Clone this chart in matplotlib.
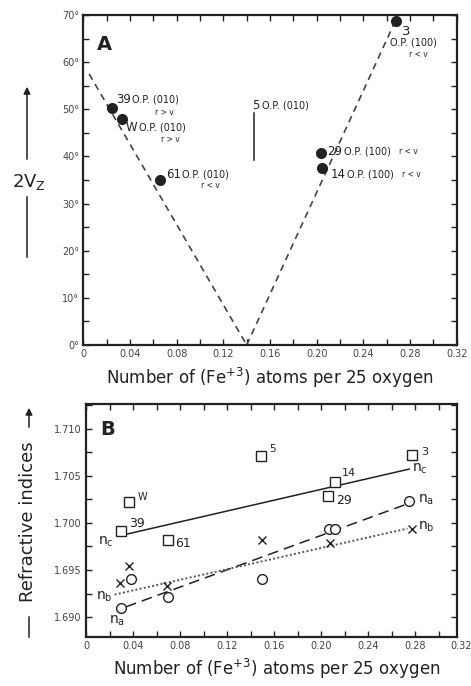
import matplotlib.pyplot as plt
import matplotlib.ticker as mticker

# --- panel A: 2Vz vs Fe+3 ---
a_names = ['39', 'W', '61', '29', '14', '3']
a_fe = [0.0246, 0.0332, 0.0657, 0.2037, 0.2046, 0.268]
a_2vz = [50.3, 48.0, 35.0, 40.8, 37.6, 68.7]
a_op = ['O.P. (010)', 'O.P. (010)', 'O.P. (010)', 'O.P. (100)', 'O.P. (100)', 'O.P. (100)']
a_disp = ['r > v', 'r > v', 'r < v', 'r < v', 'r < v', 'r < v']
s5_fe = 0.146
s5_2vz = [39.3, 49.3]
left_fe = [0.005, 0.140]
left_2vz = [57.5, 0.0]
right_fe = [0.140, 0.266]
right_2vz = [0.0, 68.0]

# --- panel B: refractive indices vs Fe+3 ---
b_names = ['W', '39', '61', '5', '29', '14', '3']
nc_fe = [0.037, 0.030, 0.0696, 0.149, 0.206, 0.212, 0.277]
nc = [1.7022, 1.6991, 1.6982, 1.7071, 1.7029, 1.7043, 1.7072]
na_fe = [0.0385, 0.030, 0.0696, 0.150, 0.207, 0.2115, 0.275]
na = [1.6941, 1.6910, 1.6921, 1.6941, 1.6993, 1.6994, 1.7023]
nb_fe = [0.0364, 0.029, 0.0688, 0.150, 0.208, 0.277]
nb = [1.6954, 1.6936, 1.6933, 1.6982, 1.6979, 1.6993]
nc_line_fe = [0.031, 0.275]
nc_line = [1.6987, 1.7057]
na_line_fe = [0.034, 0.271]
na_line = [1.6911, 1.7019]
nb_line_fe = [0.0243, 0.2736]
nb_line = [1.6924, 1.6994]

x_ticks = [0, 0.04, 0.08, 0.12, 0.16, 0.20, 0.24, 0.28, 0.32]
x_ticklabels = ['0', '0.04', '0.08', '0.12', '0.16', '0.20', '0.24', '0.28', '0.32']
a_yticks = [0, 10, 20, 30, 40, 50, 60, 70]
b_yticks = [1.690, 1.695, 1.700, 1.705, 1.710]

# label offsets in pixels (num, op, disp)
a_num_off = [(4, 8), (4, -9), (6, 6), (6, 1), (9, -7), (6, -10)]
a_op_off = [(20, 8), (17, -9), (22, 6), (23, 1), (25, -7), (17, -21)]
a_disp_off = [(52, -5), (48, -21), (50, -5), (78, 1), (80, -7), (22, -33)]
a_op_ha = ['left', 'left', 'left', 'left', 'left', 'center']
a_disp_ha = ['center', 'center', 'center', 'left', 'left', 'center']
b_num_off = [(8, 5), (8, 8), (7, -4), (8, 7), (8, -5), (7, 9), (10, 3)]
b_num_size = [7, 9, 9, 7.5, 9, 8, 8]

plt.rcParams['font.family'] = ['DejaVu Sans']
ink = '#222222'

fig = plt.figure(figsize=(4.71, 6.86), dpi=100)
ax_a = fig.add_axes([0.1769, 0.4971, 0.7928, 0.4810])
ax_b = fig.add_axes([0.1826, 0.0714, 0.7877, 0.3397])


def style_axes(ax):
    for s in ax.spines.values():
        s.set_linewidth(1.6)
        s.set_color(ink)
    ax.tick_params(which='both', direction='in', top=True, right=True,
                   length=4, width=1.0, color=ink, labelsize=7,
                   labelcolor='#444444', pad=3)


# panel A
ax_a.plot(left_fe, left_2vz, ls=(0, (4, 3)), lw=1.2, color='#444444')
ax_a.plot(right_fe, right_2vz, ls=(0, (4, 3)), lw=1.2, color='#444444')
ax_a.plot(a_fe, a_2vz, 'o', ms=8, color='#222222', mec='none')
ax_a.plot([s5_fe, s5_fe], s5_2vz, color=ink, lw=1.1)
for i in range(len(a_names)):
    pt = (a_fe[i], a_2vz[i])
    ax_a.annotate(a_names[i], pt, xytext=a_num_off[i], textcoords='offset pixels',
                  fontsize=9.5 if a_names[i] == '3' else 8.5, ha='left', va='center', color=ink)
    ax_a.annotate(a_op[i], pt, xytext=a_op_off[i], textcoords='offset pixels',
                  fontsize=7, ha=a_op_ha[i], va='center', color=ink)
    ax_a.annotate(a_disp[i], pt, xytext=a_disp_off[i], textcoords='offset pixels',
                  fontsize=5.5, ha=a_disp_ha[i], va='center', color=ink)
ax_a.annotate('5', (s5_fe, s5_2vz[1]), xytext=(-2, 7), textcoords='offset pixels',
              fontsize=8.5, ha='left', va='center', color=ink)
ax_a.annotate('O.P. (010)', (s5_fe, s5_2vz[1]), xytext=(8, 7), textcoords='offset pixels',
              fontsize=7, ha='left', va='center', color=ink)
ax_a.text(0.037, 0.91, 'A', transform=ax_a.transAxes, fontsize=14,
          fontweight='bold', ha='left', va='center', color=ink)

ax_a.set_xlim(0, 0.32)
ax_a.set_ylim(0, 70)
ax_a.set_xticks(x_ticks)
ax_a.set_xticklabels(x_ticklabels)
ax_a.xaxis.set_minor_locator(mticker.MultipleLocator(0.02))
ax_a.set_yticks(a_yticks)
ax_a.set_yticklabels([f'{v}\u00b0' for v in a_yticks])
ax_a.yaxis.set_minor_locator(mticker.MultipleLocator(5))
style_axes(ax_a)

# panel B
ax_b.plot(nc_line_fe, nc_line, '-', lw=1.1, color=ink)
ax_b.plot(na_line_fe, na_line, ls=(0, (7, 4)), lw=1.1, color=ink)
ax_b.plot(nb_line_fe, nb_line, ls=(0, (1, 1.2)), lw=1.4, color='#555555')
ax_b.plot(nc_fe, nc, 's', ms=7, mfc='white', mec=ink, mew=1.0)
ax_b.plot(na_fe, na, 'o', ms=7, mfc='white', mec=ink, mew=1.0)
ax_b.plot(nb_fe, nb, 'x', ms=6, color=ink, mew=1.0)
for i in range(len(b_names)):
    ax_b.annotate(b_names[i], (nc_fe[i], nc[i]), xytext=b_num_off[i],
                  textcoords='offset pixels', fontsize=b_num_size[i],
                  ha='left', va='center', color=ink)

nlab = dict(textcoords='offset pixels', fontsize=10, ha='center', va='center', color=ink)
ax_b.annotate(r'$\mathregular{n_c}$', (nc_line_fe[0], nc_line[0]), xytext=(-17, -7), **nlab)
ax_b.annotate(r'$\mathregular{n_c}$', (nc_line_fe[1], nc_line[1]), xytext=(11, 0), **nlab)
ax_b.annotate(r'$\mathregular{n_a}$', (na_fe[-1], na[-1]), xytext=(17, 1), **nlab)
ax_b.annotate(r'$\mathregular{n_b}$', (nb_fe[-1], nb[-1]), xytext=(15, 3), **nlab)
ax_b.annotate(r'$\mathregular{n_b}$', (nb_line_fe[0], nb_line[0]), xytext=(-10, -2), **nlab)
ax_b.annotate(r'$\mathregular{n_a}$', (na_line_fe[0], na_line[0]), xytext=(-9, -14), **nlab)
ax_b.text(0.038, 0.89, 'B', transform=ax_b.transAxes, fontsize=14,
          fontweight='bold', ha='left', va='center', color=ink)

ax_b.set_xlim(0, 0.3157)
ax_b.set_ylim(1.6879, 1.7126)
ax_b.set_xticks(x_ticks[:-1])
ax_b.set_xticklabels(x_ticklabels[:-1])
ax_b.xaxis.set_minor_locator(mticker.MultipleLocator(0.02))
ax_b.set_yticks(b_yticks)
ax_b.set_yticklabels([f'{v:.3f}' for v in b_yticks])
ax_b.yaxis.set_minor_locator(mticker.MultipleLocator(0.0025))
style_axes(ax_b)
# last tick label sits just past the right spine in the original
ax_b.text(0.319, -0.018, x_ticklabels[-1], transform=ax_b.get_xaxis_transform(),
          fontsize=7, color='#444444', ha='center', va='top', clip_on=False)

# axis titles
xlab = 'Number of (Fe$^{+3}$) atoms per 25 oxygen'
fig.text(270 / 471, 1 - 378 / 686, xlab, fontsize=12, ha='center', va='center', color=ink)
fig.text(277 / 471, 1 - 669 / 686, xlab, fontsize=12, ha='center', va='center', color=ink)

fig.text(29 / 471, 1 - 182 / 686, r'2V$_\mathregular{Z}$', fontsize=13,
         ha='center', va='center', color=ink)
fig.add_artist(plt.Line2D([27 / 471, 27 / 471], [1 - 197 / 686, 1 - 257 / 686],
                          color=ink, lw=1.1))
fig.text(28 / 471, 1 - 522 / 686, 'Refractive indices', fontsize=13, rotation=90,
         ha='center', va='center', color=ink)
fig.add_artist(plt.Line2D([29 / 471, 29 / 471], [1 - 617 / 686, 1 - 637 / 686],
                          color=ink, lw=1.1))
ax_a.annotate('', xy=(27 / 471, 1 - 84 / 686), xytext=(27 / 471, 1 - 162 / 686),
              xycoords='figure fraction', textcoords='figure fraction',
              arrowprops=dict(arrowstyle='-|>', color=ink, lw=1.1, mutation_scale=10))
ax_b.annotate('', xy=(29 / 471, 1 - 405 / 686), xytext=(29 / 471, 1 - 430 / 686),
              xycoords='figure fraction', textcoords='figure fraction',
              arrowprops=dict(arrowstyle='-|>', color=ink, lw=1.1, mutation_scale=10))

fig.savefig('out.png', dpi=100)
